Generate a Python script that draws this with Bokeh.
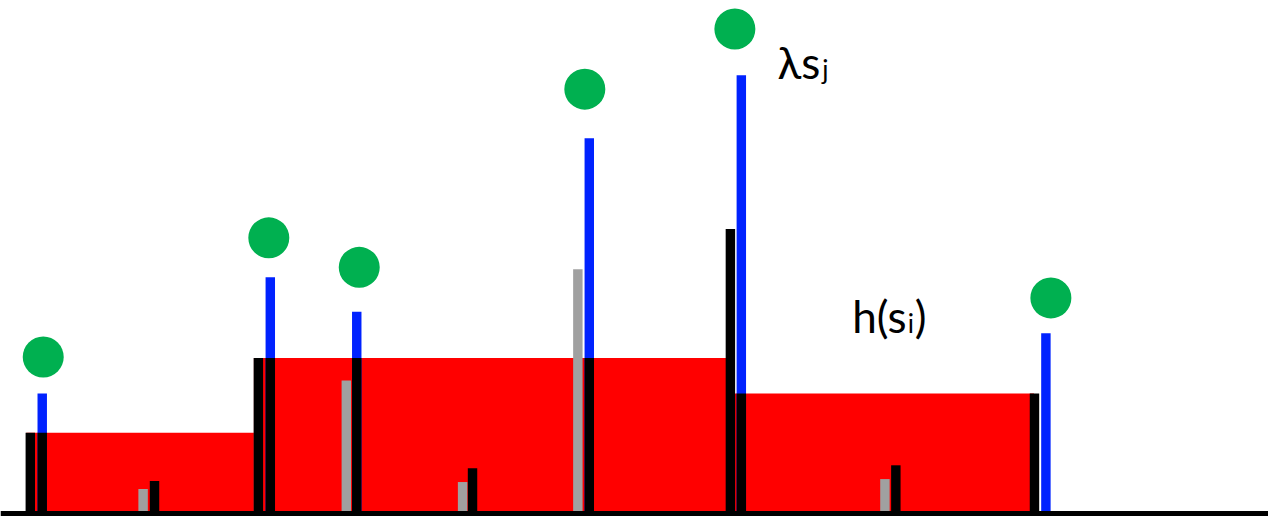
from bokeh.plotting import figure
from bokeh.models import Range1d, Span
from bokeh.embed import file_html
from bokeh.resources import INLINE
from bokeh.core.properties import value

# ---- data (x in sample position units, heights in value units) ----
# red step function h(s)
step_start = [26, 255, 735]
step_end = [255, 735, 1040]
step_level = [82, 158, 122]

# black bars
black_x = [30, 42, 155, 259.5, 271.5, 358.5, 475, 592.5, 734.5, 745.5, 901, 1040.5]
black_h = [82, 82, 33, 158, 158, 158, 46, 158, 289, 122, 49, 122]

# gray bars
gray_x = [143.5, 348, 465, 581, 890]
gray_h = [25, 135, 32, 248, 35]

# blue bars (lambda * s_j)
blue_x = [42, 271.5, 358.5, 592.5, 745.5, 1052]
blue_h = [122, 240, 205, 381, 445, 183]

# green markers
dot_x = [43, 270, 361, 588, 739, 1057]
dot_y = [159, 280, 250, 431, 492, 219]

# labels
main_text = ["λs", "h(s", ")"]
main_x = [782, 857, 920]
main_y = [459, 201, 201]
sub_text = ["j", "i"]
sub_x = [827, 913]
sub_y = [451, 193]

BAR_W = 9.5

p = figure(width=1268, height=516, output_backend="svg", toolbar_location=None,
           x_range=Range1d(0, 1276), y_range=Range1d(-3, 521),
           min_border=0)
p.axis.visible = False
p.grid.visible = False
p.outline_line_color = None
p.background_fill_color = "white"
p.border_fill_color = "white"

p.quad(left=step_start, right=step_end, bottom=0, top=step_level,
       fill_color="#FF0000", line_color=None)
p.vbar(x=blue_x, top=blue_h, bottom=0, width=BAR_W, fill_color="#0022FF", line_color=None)
p.vbar(x=black_x, top=black_h, bottom=0, width=BAR_W, fill_color="#000000", line_color=None)
p.vbar(x=gray_x, top=gray_h, bottom=0, width=BAR_W, fill_color="#A0A0A0", line_color=None)

p.add_layout(Span(location=0, dimension="width", line_color="black", line_width=5))

p.scatter(x=dot_x, y=dot_y, size=41, fill_color="#00B050", line_color=None)

p.text(x=main_x, y=main_y, text=main_text, text_font=value("Lato"),
       text_font_size="44px", text_color="black", text_baseline="alphabetic")
p.text(x=sub_x, y=sub_y, text=sub_text, text_font=value("Lato"),
       text_font_size="26px", text_color="black", text_baseline="alphabetic")

open("out.html", "w").write(file_html(p, INLINE))
